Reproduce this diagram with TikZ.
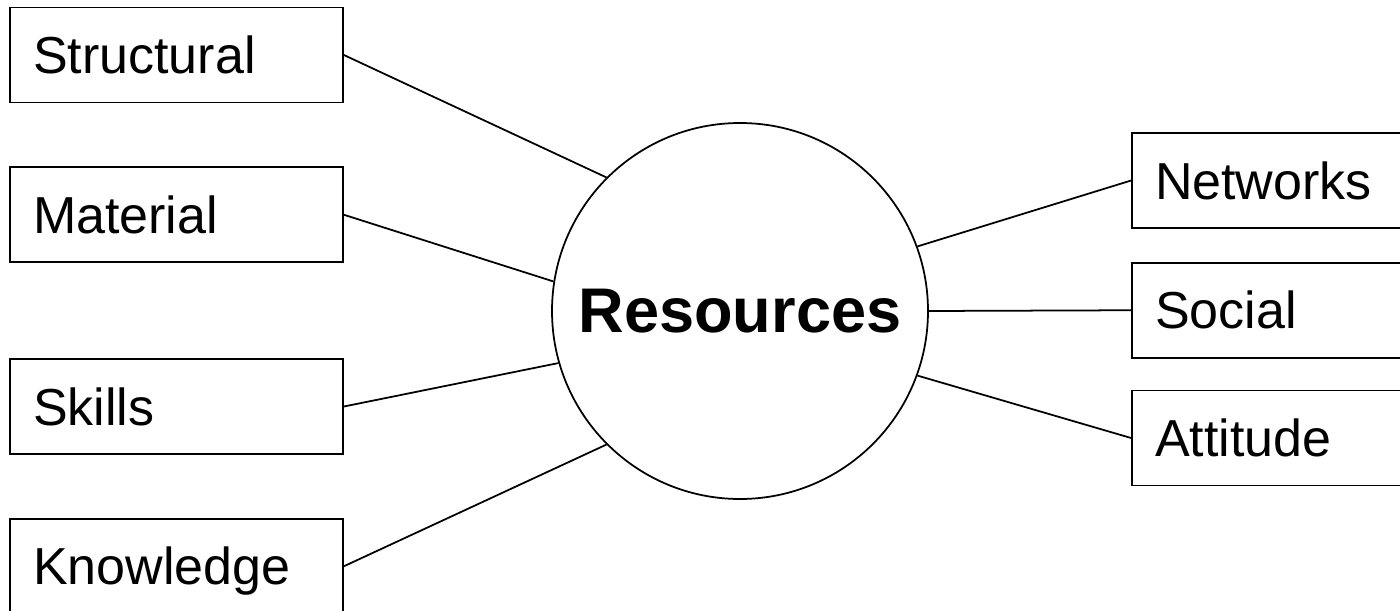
\documentclass[tikz,border=0pt]{standalone}
\usepackage{fontspec}
\setmainfont{Liberation Sans}
\usepackage{tikz}
\usetikzlibrary{positioning}
\tikzstyle{box}=[draw,rectangle,text width=5.74cm,inner xsep=0.46cm,minimum height=1.9cm,align=left,text height=21.2pt,text depth=0pt,font=\fontsize{29.6}{34}\selectfont]
\tikzstyle{hub}=[draw,circle,minimum size=7.52cm,inner sep=0pt,font=\bfseries\fontsize{35.9}{40}\selectfont]

\begin{document}
\begin{tikzpicture}[
    line width=1pt,
    text centered
    ]
    \path[use as bounding box,clip] (0,0) rectangle (28,12.2);
    \node[hub](res) at (14.8,5.98) {Resources};
    % left side
    \node[box](struct) at (3.53,11.1) {Structural};
    \node[box](mat) [below=1.26cm of struct] {Material};
    \node[box](skill) [below=1.9cm of mat] {Skills};
    \node[box](know) [below=1.26cm of skill] {Knowledge};
    % right side
    \node[box](net) at (25.97,8.59) {Networks};
    \node[box](soc) [below=0.66cm of net] {Social};
    \node[box](att) [below=0.62cm of soc] {Attitude};
    \path[-]
    (struct.east) edge (res.135)
    (mat.east) edge (res.171)
    (skill.east) edge (res.196)
    (know.east) edge (res.225)
    (net.west) edge (res.20)
    (soc.west) edge (res.0)
    (att.west) edge (res.-20)
    ;
\end{tikzpicture}
\end{document}
